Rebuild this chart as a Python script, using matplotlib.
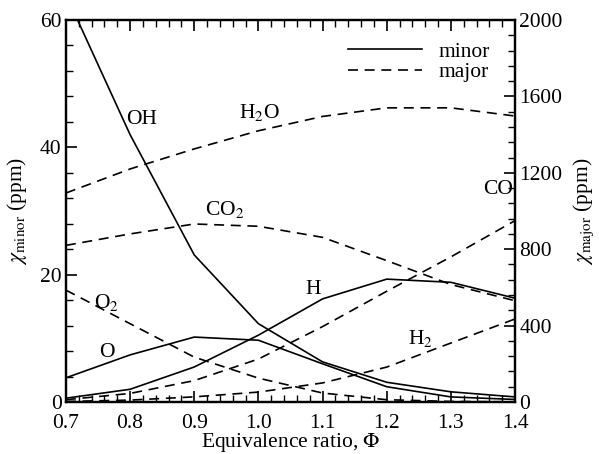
import matplotlib
matplotlib.use("Agg")
import matplotlib.pyplot as plt
from matplotlib.ticker import MultipleLocator, FormatStrFormatter

plt.rcParams['font.family'] = ['Liberation Serif', 'DejaVu Serif']
plt.rcParams['mathtext.fontset'] = 'stix'

# Equivalence ratio
phi = [0.7, 0.8, 0.9, 1.0, 1.1, 1.2, 1.3, 1.4]

# Minor species (ppm, left axis)
oh = [64.0, 42.0, 23.1, 12.3, 6.3, 3.1, 1.6, 0.8]
o = [3.8, 7.4, 10.2, 9.7, 6.0, 2.4, 0.8, 0.4]
h = [0.6, 2.0, 5.5, 10.5, 16.2, 19.3, 18.8, 16.3]

# Major species (ppm, right axis)
h2o = [1094, 1220, 1325, 1420, 1495, 1540, 1540, 1497]
co2 = [820, 880, 932, 920, 862, 740, 615, 530]
co = [12, 45, 112, 225, 395, 580, 760, 950]
h2 = [3, 10, 27, 52, 100, 183, 309, 435]
o2 = [586, 410, 235, 125, 47, 12, 3, 1]

FS = 15.5
LW = 1.2
DASH = (0, (6, 4))

fig = plt.figure(figsize=(5.99, 4.54), dpi=100)
ax = fig.add_axes([0.110, 0.1145, 0.750, 0.8415])
ax2 = ax.twinx()

for y in (oh, o, h):
    ax.plot(phi, y, color='black', lw=LW)
for y in (h2o, co2, co, h2, o2):
    ax2.plot(phi, y, color='black', lw=LW, linestyle=DASH)

ax.set_xlim(0.7, 1.4)
ax.set_ylim(0, 60)
ax2.set_ylim(0, 2000)

ax.xaxis.set_major_locator(MultipleLocator(0.1))
ax.xaxis.set_minor_locator(MultipleLocator(0.02))
ax.yaxis.set_major_locator(MultipleLocator(20))
ax.yaxis.set_minor_locator(MultipleLocator(4))
ax2.yaxis.set_major_locator(MultipleLocator(400))
ax2.yaxis.set_minor_locator(MultipleLocator(80))
ax.xaxis.set_major_formatter(FormatStrFormatter('%.1f'))

ax.tick_params(axis='x', which='both', direction='in', top=True, bottom=True, labelsize=FS, pad=8.5)
ax.tick_params(axis='y', which='both', direction='in', left=True, right=False, labelsize=FS, pad=3)
ax2.tick_params(axis='y', which='both', direction='in', left=False, right=True, labelsize=FS, pad=3)
for a in (ax, ax2):
    a.tick_params(which='major', length=8, width=1.2)
    a.tick_params(which='minor', length=5, width=1.0)
    for s in a.spines.values():
        s.set_linewidth(1.6)

ax.set_xlabel(r'Equivalence ratio, $\Phi$', fontsize=FS, labelpad=-1)
ax.set_ylabel(r'$\chi_{\rm minor}$ (ppm)', fontsize=FS, labelpad=8)
ax2.set_ylabel(r'$\chi_{\rm major}$ (ppm)', fontsize=FS, rotation=90, labelpad=6)

# Species annotations
labels = [
    ('OH', 0.818, 44.3),
    (r'H$_2$O', 1.002, 45.4),
    (r'CO$_2$', 0.948, 30.2),
    ('CO', 1.374, 33.3),
    ('H', 1.085, 17.6),
    (r'H$_2$', 1.252, 10.0),
    (r'O$_2$', 0.764, 15.7),
    ('O', 0.764, 7.85),
]
for txt, x, y in labels:
    ax.text(x, y, txt, fontsize=FS, ha='center', va='center')

# Legend for line styles
ax.plot([], [], color='black', lw=LW, label='minor')
ax.plot([], [], color='black', lw=LW, linestyle=DASH, label='major')
ax.legend(loc='upper right', bbox_to_anchor=(0.978, 0.982), frameon=False,
          fontsize=FS, handlelength=3.4, handletextpad=0.8, labelspacing=0.0,
          borderaxespad=0.3)

fig.savefig('out.png', dpi=100)
